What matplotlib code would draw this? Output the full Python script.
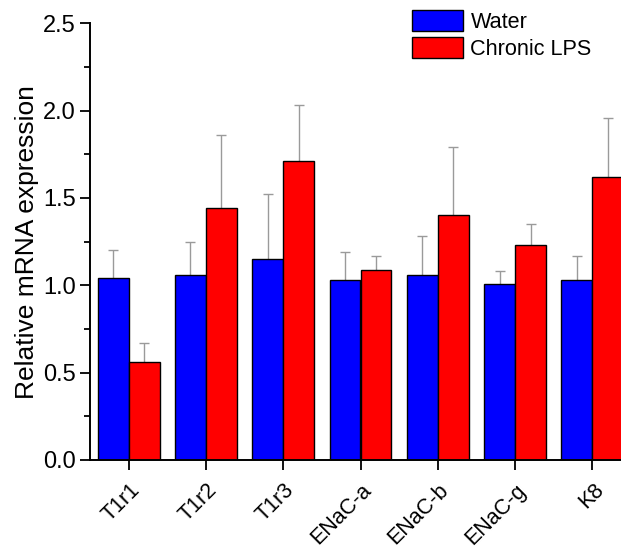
import matplotlib
matplotlib.use("Agg")
import matplotlib.pyplot as plt
import matplotlib.transforms as mtransforms
import numpy as np
from matplotlib.ticker import MultipleLocator

plt.rcParams['font.family'] = ['Liberation Sans', 'DejaVu Sans']

categories = ["T1r1", "T1r2", "T1r3", "ENaC-a", "ENaC-b", "ENaC-g", "K8"]
water = [1.04, 1.06, 1.15, 1.03, 1.06, 1.01, 1.03]
water_err_top = [1.20, 1.25, 1.52, 1.19, 1.28, 1.08, 1.17]
lps = [0.56, 1.44, 1.71, 1.09, 1.40, 1.23, 1.62]
lps_err_top = [0.67, 1.86, 2.03, 1.17, 1.79, 1.35, 1.96]
series_labels = ["Water", "Chronic LPS"]

W, H = 621, 547
fig = plt.figure(figsize=(W / 100, H / 100), dpi=100)
ax = fig.add_axes([90 / W, 1 - 460 / H, 541 / W, (460 - 23.3) / H])

x = np.arange(len(categories))
bw = 0.4
err_color = '#9a9a9a'
for offs, vals, tops, col, lab in [(-bw / 2, water, water_err_top, '#0000ff', series_labels[0]),
                                   (bw / 2, lps, lps_err_top, '#ff0000', series_labels[1])]:
    xp = x + offs
    ax.bar(xp, vals, bw, color=col, edgecolor='black', linewidth=1.0, label=lab, zorder=2)
    ax.vlines(xp, vals, tops, color=err_color, linewidth=1.0, zorder=1.5)
    ax.plot(xp, tops, linestyle='none', marker='_', markersize=6.5, markeredgewidth=1.0,
            color=err_color, zorder=1.5)

ax.set_xlim(-0.5, 6.5)
ax.set_ylim(0, 2.5)
ax.yaxis.set_minor_locator(MultipleLocator(0.25))
ax.set_yticks([0, 0.5, 1.0, 1.5, 2.0, 2.5])
ax.set_yticklabels(["0.0", "0.5", "1.0", "1.5", "2.0", "2.5"], fontsize=17)
ax.set_xticks(x)
ax.set_xticklabels(categories, fontsize=15.5, rotation=45, ha='right', va='center',
                   rotation_mode='anchor')
ax.tick_params(axis='x', which='major', direction='out', length=7, width=1.3, pad=12.5)
ax.tick_params(axis='y', which='major', direction='out', length=7, width=1.3, pad=3)
ax.tick_params(axis='y', which='minor', direction='out', length=4, width=1.3)
for s in ['top', 'right']:
    ax.spines[s].set_visible(False)
for s in ['left', 'bottom']:
    ax.spines[s].set_linewidth(1.4)

ax.set_ylabel("Relative mRNA expression", fontsize=19, labelpad=3)

leg = fig.legend(loc='upper left', bbox_to_anchor=(412 / W, 1 - 10 / H), frameon=False,
                 fontsize=15.6, handlelength=2.35, handleheight=1.1, handletextpad=0.35,
                 labelspacing=0.21, borderpad=0, borderaxespad=0)

fig.canvas.draw()
offset = mtransforms.ScaledTranslation(8 / 100, 0, fig.dpi_scale_trans)
for tick in ax.xaxis.get_major_ticks():
    tick.label1.set_transform(tick.label1.get_transform() + offset)

fig.savefig("out.png", dpi=100)
